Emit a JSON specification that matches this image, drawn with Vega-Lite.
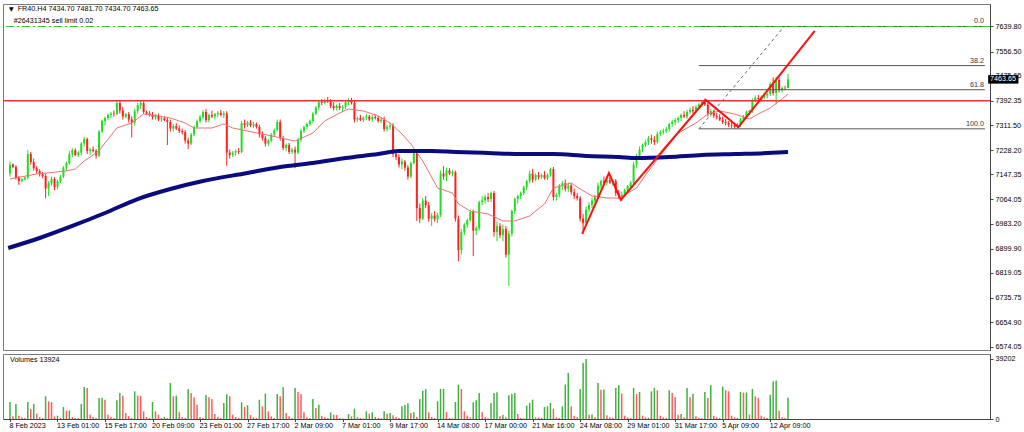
{
  "$schema": "https://vega.github.io/schema/vega-lite/v6.json",
  "background": "white",
  "padding": {"left": 2, "top": 3, "right": 0, "bottom": 0},
  "spacing": 2,
  "config": {
    "view": {"stroke": "#7a7a7a"},
    "axis": {"labelFont": "Liberation Sans", "labelFontSize": 7.2, "labelColor": "#000000", "domainColor": "#444444", "tickColor": "#444444", "tickSize": 3, "labelPadding": 2, "grid": false, "labelOverlap": false},
    "text": {"font": "Liberation Sans"}
  },
  "datasets": {
    "candles": [
      {"i":0,"o":7150,"h":7190,"l":7140,"c":7180,"v":11050,"vd":"up"},
      {"i":1,"o":7180,"h":7184,"l":7168,"c":7172,"v":1744,"vd":"down"},
      {"i":2,"o":7172,"h":7178,"l":7130,"c":7136,"v":9810,"vd":"up"},
      {"i":3,"o":7136,"h":7142,"l":7112,"c":7125,"v":2180,"vd":"down"},
      {"i":4,"o":7125,"h":7135,"l":7120,"c":7131,"v":1090,"vd":"down"},
      {"i":5,"o":7131,"h":7140,"l":7127,"c":7137,"v":654,"vd":"down"},
      {"i":6,"o":7137,"h":7228,"l":7130,"c":7215,"v":11118,"vd":"up"},
      {"i":7,"o":7215,"h":7222,"l":7180,"c":7188,"v":6540,"vd":"down"},
      {"i":8,"o":7188,"h":7200,"l":7160,"c":7168,"v":9810,"vd":"up"},
      {"i":9,"o":7168,"h":7175,"l":7150,"c":7158,"v":3488,"vd":"down"},
      {"i":10,"o":7158,"h":7165,"l":7140,"c":7148,"v":1308,"vd":"down"},
      {"i":11,"o":7148,"h":7155,"l":7135,"c":7142,"v":654,"vd":"down"},
      {"i":12,"o":7142,"h":7150,"l":7068,"c":7100,"v":14824,"vd":"up"},
      {"i":13,"o":7100,"h":7125,"l":7075,"c":7118,"v":11554,"vd":"down"},
      {"i":14,"o":7118,"h":7140,"l":7110,"c":7132,"v":11118,"vd":"down"},
      {"i":15,"o":7132,"h":7138,"l":7095,"c":7105,"v":1744,"vd":"down"},
      {"i":16,"o":7105,"h":7130,"l":7098,"c":7125,"v":2180,"vd":"up"},
      {"i":17,"o":7125,"h":7145,"l":7118,"c":7140,"v":654,"vd":"down"},
      {"i":18,"o":7140,"h":7175,"l":7135,"c":7170,"v":7848,"vd":"up"},
      {"i":19,"o":7170,"h":7190,"l":7160,"c":7185,"v":5450,"vd":"down"},
      {"i":20,"o":7185,"h":7225,"l":7180,"c":7215,"v":5600,"vd":"up"},
      {"i":21,"o":7215,"h":7235,"l":7205,"c":7228,"v":1308,"vd":"down"},
      {"i":22,"o":7228,"h":7234,"l":7208,"c":7212,"v":654,"vd":"down"},
      {"i":23,"o":7212,"h":7225,"l":7205,"c":7220,"v":600,"vd":"down"},
      {"i":24,"o":7220,"h":7255,"l":7210,"c":7250,"v":9810,"vd":"up"},
      {"i":25,"o":7250,"h":7272,"l":7240,"c":7265,"v":20928,"vd":"up"},
      {"i":26,"o":7265,"h":7270,"l":7215,"c":7225,"v":20274,"vd":"down"},
      {"i":27,"o":7225,"h":7235,"l":7212,"c":7230,"v":2834,"vd":"down"},
      {"i":28,"o":7230,"h":7240,"l":7220,"c":7225,"v":1308,"vd":"down"},
      {"i":29,"o":7225,"h":7232,"l":7200,"c":7210,"v":654,"vd":"down"},
      {"i":30,"o":7210,"h":7295,"l":7205,"c":7290,"v":13734,"vd":"up"},
      {"i":31,"o":7290,"h":7330,"l":7285,"c":7325,"v":13800,"vd":"up"},
      {"i":32,"o":7325,"h":7340,"l":7310,"c":7335,"v":12644,"vd":"down"},
      {"i":33,"o":7335,"h":7350,"l":7328,"c":7345,"v":2834,"vd":"down"},
      {"i":34,"o":7345,"h":7355,"l":7335,"c":7350,"v":1090,"vd":"down"},
      {"i":35,"o":7350,"h":7360,"l":7340,"c":7348,"v":654,"vd":"down"},
      {"i":36,"o":7348,"h":7392,"l":7345,"c":7385,"v":12208,"vd":"up"},
      {"i":37,"o":7385,"h":7395,"l":7350,"c":7360,"v":17004,"vd":"up"},
      {"i":38,"o":7360,"h":7372,"l":7330,"c":7340,"v":15260,"vd":"down"},
      {"i":39,"o":7340,"h":7352,"l":7335,"c":7348,"v":3924,"vd":"down"},
      {"i":40,"o":7348,"h":7355,"l":7320,"c":7330,"v":1744,"vd":"down"},
      {"i":41,"o":7330,"h":7340,"l":7270,"c":7320,"v":654,"vd":"down"},
      {"i":42,"o":7320,"h":7365,"l":7310,"c":7358,"v":18094,"vd":"up"},
      {"i":43,"o":7358,"h":7385,"l":7350,"c":7378,"v":15260,"vd":"down"},
      {"i":44,"o":7378,"h":7392,"l":7365,"c":7385,"v":15100,"vd":"down"},
      {"i":45,"o":7385,"h":7390,"l":7350,"c":7355,"v":5014,"vd":"down"},
      {"i":46,"o":7355,"h":7360,"l":7345,"c":7350,"v":1308,"vd":"down"},
      {"i":47,"o":7350,"h":7358,"l":7340,"c":7345,"v":654,"vd":"down"},
      {"i":48,"o":7345,"h":7355,"l":7330,"c":7338,"v":11118,"vd":"up"},
      {"i":49,"o":7338,"h":7348,"l":7330,"c":7342,"v":5014,"vd":"down"},
      {"i":50,"o":7342,"h":7350,"l":7325,"c":7330,"v":2834,"vd":"down"},
      {"i":51,"o":7330,"h":7338,"l":7322,"c":7334,"v":654,"vd":"down"},
      {"i":52,"o":7334,"h":7340,"l":7325,"c":7328,"v":1308,"vd":"up"},
      {"i":53,"o":7328,"h":7335,"l":7245,"c":7322,"v":654,"vd":"down"},
      {"i":54,"o":7322,"h":7330,"l":7290,"c":7300,"v":23544,"vd":"up"},
      {"i":55,"o":7300,"h":7315,"l":7290,"c":7308,"v":14824,"vd":"down"},
      {"i":56,"o":7308,"h":7318,"l":7295,"c":7300,"v":15260,"vd":"up"},
      {"i":57,"o":7300,"h":7310,"l":7285,"c":7292,"v":4360,"vd":"down"},
      {"i":58,"o":7292,"h":7300,"l":7280,"c":7288,"v":1090,"vd":"down"},
      {"i":59,"o":7288,"h":7295,"l":7250,"c":7260,"v":654,"vd":"down"},
      {"i":60,"o":7260,"h":7270,"l":7232,"c":7250,"v":19620,"vd":"up"},
      {"i":61,"o":7250,"h":7285,"l":7245,"c":7280,"v":17004,"vd":"down"},
      {"i":62,"o":7280,"h":7310,"l":7275,"c":7305,"v":14170,"vd":"down"},
      {"i":63,"o":7305,"h":7330,"l":7300,"c":7325,"v":9374,"vd":"down"},
      {"i":64,"o":7325,"h":7345,"l":7318,"c":7338,"v":1308,"vd":"down"},
      {"i":65,"o":7338,"h":7362,"l":7330,"c":7355,"v":654,"vd":"down"},
      {"i":66,"o":7355,"h":7365,"l":7320,"c":7328,"v":15696,"vd":"up"},
      {"i":67,"o":7328,"h":7350,"l":7320,"c":7345,"v":14170,"vd":"down"},
      {"i":68,"o":7345,"h":7360,"l":7335,"c":7340,"v":13080,"vd":"down"},
      {"i":69,"o":7340,"h":7352,"l":7330,"c":7348,"v":3270,"vd":"down"},
      {"i":70,"o":7348,"h":7358,"l":7338,"c":7352,"v":1308,"vd":"down"},
      {"i":71,"o":7352,"h":7362,"l":7340,"c":7345,"v":654,"vd":"down"},
      {"i":72,"o":7345,"h":7358,"l":7335,"c":7350,"v":10464,"vd":"up"},
      {"i":73,"o":7350,"h":7358,"l":7175,"c":7220,"v":16132,"vd":"up"},
      {"i":74,"o":7220,"h":7230,"l":7200,"c":7212,"v":14824,"vd":"down"},
      {"i":75,"o":7212,"h":7225,"l":7205,"c":7220,"v":2834,"vd":"down"},
      {"i":76,"o":7220,"h":7230,"l":7210,"c":7225,"v":1308,"vd":"down"},
      {"i":77,"o":7225,"h":7235,"l":7215,"c":7222,"v":654,"vd":"down"},
      {"i":78,"o":7222,"h":7325,"l":7218,"c":7318,"v":10900,"vd":"up"},
      {"i":79,"o":7318,"h":7330,"l":7300,"c":7312,"v":7848,"vd":"down"},
      {"i":80,"o":7312,"h":7325,"l":7305,"c":7320,"v":8938,"vd":"up"},
      {"i":81,"o":7320,"h":7328,"l":7305,"c":7310,"v":2616,"vd":"down"},
      {"i":82,"o":7310,"h":7322,"l":7302,"c":7315,"v":1090,"vd":"down"},
      {"i":83,"o":7315,"h":7320,"l":7300,"c":7305,"v":654,"vd":"down"},
      {"i":84,"o":7305,"h":7312,"l":7270,"c":7280,"v":12644,"vd":"up"},
      {"i":85,"o":7280,"h":7290,"l":7260,"c":7268,"v":8284,"vd":"down"},
      {"i":86,"o":7268,"h":7275,"l":7240,"c":7250,"v":16568,"vd":"up"},
      {"i":87,"o":7250,"h":7265,"l":7242,"c":7260,"v":5014,"vd":"down"},
      {"i":88,"o":7260,"h":7285,"l":7255,"c":7280,"v":1744,"vd":"down"},
      {"i":89,"o":7280,"h":7300,"l":7275,"c":7295,"v":654,"vd":"down"},
      {"i":90,"o":7295,"h":7330,"l":7290,"c":7322,"v":16350,"vd":"up"},
      {"i":91,"o":7322,"h":7330,"l":7260,"c":7268,"v":14824,"vd":"down"},
      {"i":92,"o":7268,"h":7275,"l":7228,"c":7235,"v":20710,"vd":"up"},
      {"i":93,"o":7235,"h":7250,"l":7225,"c":7245,"v":3924,"vd":"down"},
      {"i":94,"o":7245,"h":7252,"l":7215,"c":7222,"v":1744,"vd":"down"},
      {"i":95,"o":7222,"h":7235,"l":7215,"c":7230,"v":654,"vd":"down"},
      {"i":96,"o":7230,"h":7240,"l":7168,"c":7220,"v":20274,"vd":"up"},
      {"i":97,"o":7220,"h":7270,"l":7215,"c":7262,"v":17658,"vd":"down"},
      {"i":98,"o":7262,"h":7300,"l":7255,"c":7292,"v":16350,"vd":"down"},
      {"i":99,"o":7292,"h":7310,"l":7285,"c":7305,"v":4360,"vd":"down"},
      {"i":100,"o":7305,"h":7320,"l":7298,"c":7315,"v":1090,"vd":"down"},
      {"i":101,"o":7315,"h":7330,"l":7308,"c":7325,"v":654,"vd":"down"},
      {"i":102,"o":7325,"h":7355,"l":7318,"c":7350,"v":13080,"vd":"up"},
      {"i":103,"o":7350,"h":7375,"l":7345,"c":7370,"v":7194,"vd":"down"},
      {"i":104,"o":7370,"h":7392,"l":7362,"c":7388,"v":9374,"vd":"up"},
      {"i":105,"o":7388,"h":7398,"l":7378,"c":7385,"v":2180,"vd":"down"},
      {"i":106,"o":7385,"h":7400,"l":7380,"c":7395,"v":1090,"vd":"down"},
      {"i":107,"o":7395,"h":7405,"l":7385,"c":7390,"v":654,"vd":"down"},
      {"i":108,"o":7390,"h":7398,"l":7368,"c":7375,"v":4360,"vd":"up"},
      {"i":109,"o":7375,"h":7388,"l":7360,"c":7368,"v":2834,"vd":"down"},
      {"i":110,"o":7368,"h":7380,"l":7360,"c":7375,"v":2616,"vd":"down"},
      {"i":111,"o":7375,"h":7385,"l":7362,"c":7368,"v":654,"vd":"down"},
      {"i":112,"o":7368,"h":7378,"l":7355,"c":7372,"v":436,"vd":"down"},
      {"i":113,"o":7372,"h":7392,"l":7365,"c":7388,"v":218,"vd":"down"},
      {"i":114,"o":7388,"h":7400,"l":7378,"c":7395,"v":3270,"vd":"up"},
      {"i":115,"o":7395,"h":7402,"l":7380,"c":7385,"v":1744,"vd":"down"},
      {"i":116,"o":7385,"h":7392,"l":7320,"c":7330,"v":6758,"vd":"up"},
      {"i":117,"o":7330,"h":7340,"l":7322,"c":7335,"v":1308,"vd":"down"},
      {"i":118,"o":7335,"h":7345,"l":7325,"c":7328,"v":654,"vd":"down"},
      {"i":119,"o":7328,"h":7340,"l":7322,"c":7336,"v":436,"vd":"down"},
      {"i":120,"o":7336,"h":7348,"l":7328,"c":7340,"v":5014,"vd":"up"},
      {"i":121,"o":7340,"h":7345,"l":7325,"c":7330,"v":3488,"vd":"down"},
      {"i":122,"o":7330,"h":7345,"l":7322,"c":7338,"v":4360,"vd":"up"},
      {"i":123,"o":7338,"h":7348,"l":7330,"c":7335,"v":1308,"vd":"down"},
      {"i":124,"o":7335,"h":7342,"l":7320,"c":7325,"v":654,"vd":"down"},
      {"i":125,"o":7325,"h":7338,"l":7318,"c":7330,"v":436,"vd":"down"},
      {"i":126,"o":7330,"h":7340,"l":7290,"c":7298,"v":5014,"vd":"up"},
      {"i":127,"o":7298,"h":7312,"l":7290,"c":7305,"v":3488,"vd":"down"},
      {"i":128,"o":7305,"h":7320,"l":7295,"c":7310,"v":3924,"vd":"up"},
      {"i":129,"o":7310,"h":7318,"l":7205,"c":7215,"v":2398,"vd":"down"},
      {"i":130,"o":7215,"h":7230,"l":7195,"c":7205,"v":1308,"vd":"down"},
      {"i":131,"o":7205,"h":7215,"l":7170,"c":7180,"v":654,"vd":"down"},
      {"i":132,"o":7180,"h":7200,"l":7165,"c":7190,"v":8284,"vd":"up"},
      {"i":133,"o":7190,"h":7195,"l":7160,"c":7170,"v":9156,"vd":"up"},
      {"i":134,"o":7170,"h":7178,"l":7130,"c":7140,"v":10246,"vd":"up"},
      {"i":135,"o":7140,"h":7190,"l":7135,"c":7185,"v":3924,"vd":"down"},
      {"i":136,"o":7185,"h":7232,"l":7180,"c":7225,"v":4360,"vd":"up"},
      {"i":137,"o":7225,"h":7232,"l":6992,"c":7035,"v":1308,"vd":"down"},
      {"i":138,"o":7035,"h":7050,"l":6985,"c":7000,"v":13080,"vd":"up"},
      {"i":139,"o":7000,"h":7068,"l":6995,"c":7060,"v":18530,"vd":"up"},
      {"i":140,"o":7060,"h":7075,"l":7035,"c":7045,"v":19620,"vd":"up"},
      {"i":141,"o":7045,"h":7055,"l":6990,"c":7000,"v":4360,"vd":"down"},
      {"i":142,"o":7000,"h":7018,"l":6975,"c":7010,"v":1308,"vd":"down"},
      {"i":143,"o":7010,"h":7025,"l":6990,"c":6998,"v":654,"vd":"down"},
      {"i":144,"o":6998,"h":7020,"l":6985,"c":7012,"v":11554,"vd":"up"},
      {"i":145,"o":7012,"h":7160,"l":7005,"c":7150,"v":19620,"vd":"up"},
      {"i":146,"o":7150,"h":7175,"l":7130,"c":7140,"v":19700,"vd":"up"},
      {"i":147,"o":7140,"h":7170,"l":7125,"c":7160,"v":4578,"vd":"down"},
      {"i":148,"o":7160,"h":7168,"l":7145,"c":7150,"v":654,"vd":"down"},
      {"i":149,"o":7150,"h":7162,"l":7140,"c":7155,"v":436,"vd":"down"},
      {"i":150,"o":7155,"h":7160,"l":6990,"c":7000,"v":11118,"vd":"up"},
      {"i":151,"o":7000,"h":7010,"l":6858,"c":6895,"v":22454,"vd":"up"},
      {"i":152,"o":6895,"h":6965,"l":6880,"c":6955,"v":19620,"vd":"down"},
      {"i":153,"o":6955,"h":6985,"l":6945,"c":6980,"v":5014,"vd":"down"},
      {"i":154,"o":6980,"h":7000,"l":6970,"c":6995,"v":2180,"vd":"down"},
      {"i":155,"o":6995,"h":7030,"l":6990,"c":7022,"v":1090,"vd":"down"},
      {"i":156,"o":7022,"h":7030,"l":6875,"c":6960,"v":10900,"vd":"up"},
      {"i":157,"o":6960,"h":6975,"l":6945,"c":6968,"v":12208,"vd":"up"},
      {"i":158,"o":6968,"h":7060,"l":6960,"c":7055,"v":17004,"vd":"up"},
      {"i":159,"o":7055,"h":7075,"l":7045,"c":7060,"v":4360,"vd":"down"},
      {"i":160,"o":7060,"h":7080,"l":7050,"c":7072,"v":1090,"vd":"down"},
      {"i":161,"o":7072,"h":7085,"l":7055,"c":7065,"v":436,"vd":"down"},
      {"i":162,"o":7065,"h":7090,"l":7055,"c":7085,"v":10464,"vd":"up"},
      {"i":163,"o":7085,"h":7092,"l":6940,"c":6955,"v":17004,"vd":"up"},
      {"i":164,"o":6955,"h":6990,"l":6925,"c":6975,"v":17440,"vd":"up"},
      {"i":165,"o":6975,"h":6985,"l":6935,"c":6945,"v":1744,"vd":"down"},
      {"i":166,"o":6945,"h":6980,"l":6925,"c":6965,"v":2616,"vd":"up"},
      {"i":167,"o":6965,"h":6975,"l":6870,"c":6880,"v":1090,"vd":"down"},
      {"i":168,"o":6880,"h":6960,"l":6776,"c":6950,"v":15478,"vd":"up"},
      {"i":169,"o":6950,"h":7030,"l":6940,"c":7025,"v":16568,"vd":"up"},
      {"i":170,"o":7025,"h":7070,"l":7015,"c":7065,"v":17004,"vd":"up"},
      {"i":171,"o":7065,"h":7080,"l":7050,"c":7075,"v":3270,"vd":"down"},
      {"i":172,"o":7075,"h":7090,"l":7065,"c":7085,"v":654,"vd":"down"},
      {"i":173,"o":7085,"h":7110,"l":7078,"c":7105,"v":436,"vd":"down"},
      {"i":174,"o":7105,"h":7130,"l":7095,"c":7125,"v":8720,"vd":"up"},
      {"i":175,"o":7125,"h":7160,"l":7118,"c":7150,"v":10464,"vd":"up"},
      {"i":176,"o":7150,"h":7165,"l":7120,"c":7130,"v":12644,"vd":"up"},
      {"i":177,"o":7130,"h":7150,"l":7125,"c":7145,"v":1090,"vd":"down"},
      {"i":178,"o":7145,"h":7155,"l":7130,"c":7138,"v":872,"vd":"down"},
      {"i":179,"o":7138,"h":7150,"l":7132,"c":7145,"v":654,"vd":"down"},
      {"i":180,"o":7145,"h":7158,"l":7130,"c":7135,"v":7848,"vd":"up"},
      {"i":181,"o":7135,"h":7150,"l":7128,"c":7145,"v":8284,"vd":"up"},
      {"i":182,"o":7145,"h":7170,"l":7140,"c":7165,"v":10464,"vd":"up"},
      {"i":183,"o":7165,"h":7172,"l":7060,"c":7072,"v":6758,"vd":"down"},
      {"i":184,"o":7072,"h":7085,"l":7060,"c":7080,"v":1090,"vd":"down"},
      {"i":185,"o":7080,"h":7115,"l":7070,"c":7110,"v":654,"vd":"down"},
      {"i":186,"o":7110,"h":7125,"l":7095,"c":7118,"v":8284,"vd":"up"},
      {"i":187,"o":7118,"h":7130,"l":7090,"c":7100,"v":22454,"vd":"up"},
      {"i":188,"o":7100,"h":7120,"l":7088,"c":7110,"v":30084,"vd":"up"},
      {"i":189,"o":7110,"h":7118,"l":7080,"c":7088,"v":8284,"vd":"down"},
      {"i":190,"o":7088,"h":7100,"l":7065,"c":7075,"v":2180,"vd":"down"},
      {"i":191,"o":7075,"h":7085,"l":7060,"c":7068,"v":1090,"vd":"down"},
      {"i":192,"o":7068,"h":7075,"l":6990,"c":7000,"v":19620,"vd":"up"},
      {"i":193,"o":7000,"h":7015,"l":6950,"c":6985,"v":36624,"vd":"up"},
      {"i":194,"o":6985,"h":7040,"l":6975,"c":7030,"v":39202,"vd":"up"},
      {"i":195,"o":7030,"h":7055,"l":7020,"c":7045,"v":2834,"vd":"down"},
      {"i":196,"o":7045,"h":7070,"l":7035,"c":7060,"v":2900,"vd":"up"},
      {"i":197,"o":7060,"h":7080,"l":7050,"c":7072,"v":1090,"vd":"down"},
      {"i":198,"o":7072,"h":7120,"l":7065,"c":7110,"v":23544,"vd":"up"},
      {"i":199,"o":7110,"h":7130,"l":7100,"c":7125,"v":19184,"vd":"down"},
      {"i":200,"o":7125,"h":7140,"l":7110,"c":7120,"v":19300,"vd":"up"},
      {"i":201,"o":7120,"h":7135,"l":7110,"c":7128,"v":2398,"vd":"down"},
      {"i":202,"o":7128,"h":7138,"l":7115,"c":7120,"v":1090,"vd":"down"},
      {"i":203,"o":7120,"h":7130,"l":7110,"c":7125,"v":872,"vd":"down"},
      {"i":204,"o":7125,"h":7132,"l":7075,"c":7085,"v":20274,"vd":"up"},
      {"i":205,"o":7085,"h":7095,"l":7065,"c":7075,"v":22018,"vd":"up"},
      {"i":206,"o":7075,"h":7090,"l":7058,"c":7080,"v":16568,"vd":"down"},
      {"i":207,"o":7080,"h":7100,"l":7072,"c":7095,"v":2180,"vd":"down"},
      {"i":208,"o":7095,"h":7112,"l":7088,"c":7108,"v":1090,"vd":"down"},
      {"i":209,"o":7108,"h":7125,"l":7100,"c":7120,"v":654,"vd":"down"},
      {"i":210,"o":7120,"h":7190,"l":7115,"c":7180,"v":20274,"vd":"up"},
      {"i":211,"o":7180,"h":7215,"l":7170,"c":7205,"v":16350,"vd":"down"},
      {"i":212,"o":7205,"h":7240,"l":7195,"c":7230,"v":17658,"vd":"up"},
      {"i":213,"o":7230,"h":7250,"l":7222,"c":7245,"v":2180,"vd":"down"},
      {"i":214,"o":7245,"h":7262,"l":7238,"c":7255,"v":1090,"vd":"down"},
      {"i":215,"o":7255,"h":7275,"l":7245,"c":7268,"v":872,"vd":"down"},
      {"i":216,"o":7268,"h":7280,"l":7250,"c":7262,"v":18094,"vd":"up"},
      {"i":217,"o":7262,"h":7275,"l":7245,"c":7255,"v":20274,"vd":"up"},
      {"i":218,"o":7255,"h":7290,"l":7250,"c":7282,"v":18748,"vd":"down"},
      {"i":219,"o":7282,"h":7295,"l":7275,"c":7288,"v":2180,"vd":"down"},
      {"i":220,"o":7288,"h":7300,"l":7280,"c":7292,"v":1090,"vd":"down"},
      {"i":221,"o":7292,"h":7305,"l":7285,"c":7298,"v":654,"vd":"down"},
      {"i":222,"o":7298,"h":7320,"l":7290,"c":7315,"v":18748,"vd":"up"},
      {"i":223,"o":7315,"h":7330,"l":7305,"c":7322,"v":17004,"vd":"down"},
      {"i":224,"o":7322,"h":7335,"l":7312,"c":7328,"v":14388,"vd":"down"},
      {"i":225,"o":7328,"h":7340,"l":7318,"c":7335,"v":2834,"vd":"down"},
      {"i":226,"o":7335,"h":7350,"l":7325,"c":7345,"v":3270,"vd":"up"},
      {"i":227,"o":7345,"h":7358,"l":7335,"c":7340,"v":1090,"vd":"down"},
      {"i":228,"o":7340,"h":7362,"l":7332,"c":7355,"v":20274,"vd":"up"},
      {"i":229,"o":7355,"h":7370,"l":7348,"c":7362,"v":14388,"vd":"down"},
      {"i":230,"o":7362,"h":7375,"l":7350,"c":7358,"v":16568,"vd":"up"},
      {"i":231,"o":7358,"h":7378,"l":7352,"c":7372,"v":1744,"vd":"down"},
      {"i":232,"o":7372,"h":7385,"l":7365,"c":7380,"v":872,"vd":"down"},
      {"i":233,"o":7380,"h":7392,"l":7372,"c":7388,"v":654,"vd":"down"},
      {"i":234,"o":7388,"h":7400,"l":7375,"c":7380,"v":17658,"vd":"up"},
      {"i":235,"o":7380,"h":7395,"l":7340,"c":7350,"v":13734,"vd":"down"},
      {"i":236,"o":7350,"h":7365,"l":7340,"c":7358,"v":22018,"vd":"up"},
      {"i":237,"o":7358,"h":7362,"l":7335,"c":7342,"v":2180,"vd":"down"},
      {"i":238,"o":7342,"h":7352,"l":7330,"c":7338,"v":1090,"vd":"down"},
      {"i":239,"o":7338,"h":7348,"l":7325,"c":7330,"v":654,"vd":"down"},
      {"i":240,"o":7330,"h":7340,"l":7315,"c":7322,"v":21146,"vd":"up"},
      {"i":241,"o":7322,"h":7332,"l":7310,"c":7318,"v":18748,"vd":"down"},
      {"i":242,"o":7318,"h":7325,"l":7305,"c":7312,"v":18094,"vd":"down"},
      {"i":243,"o":7312,"h":7320,"l":7302,"c":7310,"v":2180,"vd":"down"},
      {"i":244,"o":7310,"h":7318,"l":7299,"c":7305,"v":1090,"vd":"down"},
      {"i":245,"o":7305,"h":7318,"l":7300,"c":7312,"v":654,"vd":"down"},
      {"i":246,"o":7312,"h":7335,"l":7305,"c":7330,"v":17658,"vd":"up"},
      {"i":247,"o":7330,"h":7345,"l":7322,"c":7340,"v":17222,"vd":"down"},
      {"i":248,"o":7340,"h":7360,"l":7332,"c":7355,"v":17300,"vd":"up"},
      {"i":249,"o":7355,"h":7362,"l":7345,"c":7358,"v":2834,"vd":"down"},
      {"i":250,"o":7358,"h":7400,"l":7352,"c":7395,"v":19620,"vd":"up"},
      {"i":251,"o":7395,"h":7410,"l":7388,"c":7402,"v":14824,"vd":"down"},
      {"i":252,"o":7402,"h":7412,"l":7392,"c":7398,"v":13734,"vd":"down"},
      {"i":253,"o":7398,"h":7410,"l":7390,"c":7405,"v":2180,"vd":"down"},
      {"i":254,"o":7405,"h":7418,"l":7398,"c":7410,"v":1090,"vd":"down"},
      {"i":255,"o":7410,"h":7420,"l":7400,"c":7415,"v":654,"vd":"down"},
      {"i":256,"o":7415,"h":7455,"l":7408,"c":7448,"v":15914,"vd":"up"},
      {"i":257,"o":7448,"h":7470,"l":7410,"c":7418,"v":24634,"vd":"up"},
      {"i":258,"o":7418,"h":7472,"l":7380,"c":7462,"v":25070,"vd":"up"},
      {"i":259,"o":7462,"h":7470,"l":7420,"c":7428,"v":5450,"vd":"down"},
      {"i":260,"o":7428,"h":7440,"l":7420,"c":7435,"v":1090,"vd":"down"},
      {"i":261,"o":7435,"h":7442,"l":7428,"c":7434.7,"v":654,"vd":"down"},
      {"i":262,"o":7434.7,"h":7481.7,"l":7434.7,"c":7463.65,"v":13924,"vd":"up"}
    ],
    "ma_fast": [
      {"i":0,"p":7132},{"i":9,"p":7148.6},{"i":19,"p":7158.6},{"i":22,"p":7165.3},{"i":25,"p":7191.9},
      {"i":30,"p":7225.2},{"i":32,"p":7251.8},{"i":36,"p":7301.8},{"i":41,"p":7318.5},{"i":45,"p":7348.4},
      {"i":50,"p":7341.8},{"i":54,"p":7335.1},{"i":59,"p":7318.5},{"i":62,"p":7301.8},{"i":68,"p":7301.8},
      {"i":72,"p":7315.1},{"i":75,"p":7301.8},{"i":80,"p":7291.8},{"i":85,"p":7281.8},{"i":96,"p":7258.5},
      {"i":102,"p":7285.1},{"i":106,"p":7325.1},{"i":111,"p":7351.7},{"i":114,"p":7365.1},{"i":119,"p":7358.4},
      {"i":124,"p":7341.8},{"i":128,"p":7318.5},{"i":132,"p":7281.8},{"i":135,"p":7248.5},{"i":139,"p":7191.9},
      {"i":144,"p":7102},{"i":149,"p":7085.3},{"i":151,"p":7048.7},{"i":155,"p":7025.4},{"i":161,"p":7015.4},
      {"i":166,"p":6992.1},{"i":170,"p":6992.1},{"i":175,"p":7008.8},{"i":180,"p":7048.7},{"i":183,"p":7102},
      {"i":189,"p":7118.6},{"i":192,"p":7098.7},{"i":196,"p":7075.4},{"i":201,"p":7068.7},{"i":205,"p":7068.7},
      {"i":211,"p":7102},{"i":215,"p":7158.6},{"i":221,"p":7235.2},{"i":225,"p":7285.1},{"i":231,"p":7318.5},
      {"i":235,"p":7348.4},{"i":239,"p":7358.4},{"i":244,"p":7348.4},{"i":249,"p":7331.8},{"i":252,"p":7348.4},
      {"i":256,"p":7368.4},{"i":260,"p":7398.4},{"i":262,"p":7415}
    ],
    "ma_slow": [
      {"i":-0.6,"p":6902.2},{"i":10,"p":6935.5},{"i":21,"p":6975.5},{"i":32,"p":7018.7},{"i":43,"p":7065.3},
      {"i":54,"p":7098.7},{"i":65,"p":7125.3},{"i":80,"p":7152},{"i":91,"p":7171.9},{"i":102,"p":7185.2},
      {"i":113,"p":7201.9},{"i":124,"p":7215.2},{"i":131,"p":7225.2},{"i":142,"p":7225.2},{"i":150,"p":7221.9},
      {"i":161,"p":7218.5},{"i":172,"p":7215.2},{"i":183,"p":7215.2},{"i":194,"p":7208.5},{"i":205,"p":7205.2},
      {"i":211,"p":7201.9},{"i":222,"p":7205.2},{"i":233,"p":7211.9},{"i":244,"p":7215.2},{"i":255,"p":7218.5},
      {"i":262,"p":7221.9}
    ],
    "zigzag": [
      {"i":192.7,"p":6949},{"i":201.7,"p":7152},{"i":205.7,"p":7062},{"i":234.3,"p":7395},{"i":245.3,"p":7305},{"i":271,"p":7625}
    ],
    "fib": [
      {"lvl":"0.0","p":7639.8},{"lvl":"38.2","p":7509.6},{"lvl":"61.8","p":7429.2},{"lvl":"100.0","p":7299}
    ],
    "fibtrend": [
      {"i":232,"p":7299},{"i":260.7,"p":7640}
    ]
  },
  "vconcat": [
    {
      "width": 987,
      "height": 346,
      "layer": [
        {
          "data": {"name": "candles"},
          "mark": {"type": "rule", "strokeWidth": 1, "clip": true},
          "encoding": {
            "x": {"field": "i", "type": "quantitative", "title": null, "scale": {"domain": [-0.667, 328.333], "nice": false, "zero": false}, "axis": null},
            "y": {"field": "l", "type": "quantitative", "title": null, "scale": {"domain": [6562.5, 7714.7], "nice": false, "zero": false},
              "axis": {"orient": "right", "format": ".2f", "labelOverlap": false, "labelBound": false, "tickCount": 14,
                "values": [6574.05, 6654.9, 6735.75, 6819.05, 6899.9, 6983.2, 7064.05, 7147.35, 7228.2, 7311.5, 7392.35, 7475.65, 7556.5, 7639.8]}},
            "y2": {"field": "h"},
            "color": {"condition": {"test": "datum.c >= datum.o", "value": "#22dd22"}, "value": "#ff2020"}
          }
        },
        {
          "data": {"name": "candles"},
          "mark": {"type": "bar", "size": 2, "clip": true},
          "encoding": {
            "x": {"field": "i", "type": "quantitative", "title": null},
            "y": {"field": "o", "type": "quantitative", "title": null},
            "y2": {"field": "c"},
            "color": {"condition": {"test": "datum.c >= datum.o", "value": "#22dd22"}, "value": "#ff2020"}
          }
        },
        {
          "data": {"name": "ma_fast"},
          "mark": {"type": "line", "color": "#f07070", "strokeWidth": 1, "clip": true},
          "encoding": {
            "x": {"field": "i", "type": "quantitative", "title": null},
            "y": {"field": "p", "type": "quantitative", "title": null}
          }
        },
        {
          "data": {"name": "ma_slow"},
          "mark": {"type": "line", "color": "#0b0b80", "strokeWidth": 4, "interpolate": "monotone", "clip": true},
          "encoding": {
            "x": {"field": "i", "type": "quantitative", "title": null},
            "y": {"field": "p", "type": "quantitative", "title": null}
          }
        },
        {
          "data": {"values": [{"level": 7392.35}]},
          "mark": {"type": "rule", "color": "#f03030", "strokeWidth": 1.6, "clip": true},
          "encoding": {"y": {"field": "level", "type": "quantitative", "title": null}}
        },
        {
          "data": {"name": "fib"},
          "mark": {"type": "rule", "color": "#555555", "strokeWidth": 1, "clip": true},
          "encoding": {
            "x": {"datum": 232, "type": "quantitative", "title": null},
            "x2": {"datum": 328.3},
            "y": {"field": "p", "type": "quantitative", "title": null}
          }
        },
        {
          "data": {"name": "fib"},
          "mark": {"type": "text", "align": "right", "baseline": "bottom", "dy": -1, "fontSize": 7.2, "color": "#333333"},
          "encoding": {
            "x": {"datum": 328, "type": "quantitative", "title": null},
            "y": {"field": "p", "type": "quantitative", "title": null},
            "text": {"field": "lvl"}
          }
        },
        {
          "data": {"name": "fibtrend"},
          "mark": {"type": "line", "color": "#666666", "strokeWidth": 1, "strokeDash": [3, 3], "clip": true},
          "encoding": {
            "x": {"field": "i", "type": "quantitative", "title": null},
            "y": {"field": "p", "type": "quantitative", "title": null}
          }
        },
        {
          "data": {"name": "zigzag"},
          "mark": {"type": "line", "color": "#ff1010", "strokeWidth": 2, "clip": true},
          "encoding": {
            "x": {"field": "i", "type": "quantitative", "title": null},
            "y": {"field": "p", "type": "quantitative", "title": null}
          }
        },
        {
          "data": {"values": [{"level": 7639.8}]},
          "mark": {"type": "rule", "color": "#33cc33", "strokeWidth": 1, "strokeDash": [8, 3, 2, 3], "clip": true},
          "encoding": {"y": {"field": "level", "type": "quantitative", "title": null}}
        },
        {
          "data": {"values": [{"t": "▼"}]},
          "mark": {"type": "text", "align": "left", "baseline": "middle", "fontSize": 6, "font": "DejaVu Sans", "color": "#000000"},
          "encoding": {
            "x": {"datum": -0.3, "type": "quantitative", "title": null},
            "y": {"datum": 7698, "type": "quantitative", "title": null},
            "text": {"field": "t"}
          }
        },
        {
          "data": {"values": [{"t": "FR40.H4  7434.70 7481.70 7434.70 7463.65"}]},
          "mark": {"type": "text", "align": "left", "baseline": "middle", "fontSize": 7.2, "color": "#000000"},
          "encoding": {
            "x": {"datum": 2.6, "type": "quantitative", "title": null},
            "y": {"datum": 7698, "type": "quantitative", "title": null},
            "text": {"field": "t"}
          }
        },
        {
          "data": {"values": [{"t": "#26431345 sell limit 0.02"}]},
          "mark": {"type": "text", "align": "left", "baseline": "middle", "fontSize": 7.2, "color": "#000000"},
          "encoding": {
            "x": {"datum": 1.3, "type": "quantitative", "title": null},
            "y": {"datum": 7658, "type": "quantitative", "title": null},
            "text": {"field": "t"}
          }
        },
        {
          "data": {"values": [{"last": 7463.65}]},
          "mark": {"type": "rect", "color": "#000000"},
          "encoding": {
            "x": {"datum": 329.4, "type": "quantitative", "title": null},
            "x2": {"datum": 339.6},
            "y": {"datum": 7449.5, "type": "quantitative", "title": null},
            "y2": {"datum": 7478}
          }
        },
        {
          "data": {"values": [{"last": 7463.65}]},
          "mark": {"type": "text", "align": "left", "baseline": "middle", "fontSize": 7.2, "color": "#ffffff"},
          "encoding": {
            "x": {"datum": 330, "type": "quantitative", "title": null},
            "y": {"field": "last", "type": "quantitative", "title": null},
            "text": {"field": "last", "type": "quantitative", "format": ".2f"}
          }
        }
      ]
    },
    {
      "width": 987,
      "height": 65,
      "layer": [
        {
          "data": {"name": "candles"},
          "mark": {"type": "bar", "size": 1.5, "clip": true},
          "encoding": {
            "x": {"field": "i", "type": "quantitative", "title": null, "scale": {"domain": [-0.667, 328.333], "nice": false, "zero": false},
              "axis": {"orient": "bottom", "values": [0, 16, 32, 48, 64, 80, 96, 112, 128, 144, 160, 176, 192, 208, 224, 240, 256], "labelAlign": "left", "labelOffset": -1, "labelFlush": false, "labelOverlap": false, "tickSize": 2.5, "labelPadding": 0,
                "labelExpr": "['8 Feb 2023','13 Feb 01:00','15 Feb 17:00','20 Feb 09:00','23 Feb 01:00','27 Feb 17:00','2 Mar 09:00','7 Mar 01:00','9 Mar 17:00','14 Mar 08:00','17 Mar 00:00','21 Mar 16:00','24 Mar 08:00','29 Mar 01:00','31 Mar 17:00','5 Apr 09:00','12 Apr 09:00'][round(datum.value / 16)]"}},
            "y": {"field": "v", "type": "quantitative", "title": null, "scale": {"domain": [0, 42450], "nice": false},
              "axis": {"orient": "right", "values": [0, 39202], "format": "d", "labelOverlap": false}},
            "color": {"field": "vd", "type": "nominal", "scale": {"domain": ["up", "down"], "range": ["#3fb23f", "#ff5c5c"]}, "legend": null}
          }
        },
        {
          "data": {"values": [{"t": "Volumes 13924"}]},
          "mark": {"type": "text", "align": "left", "baseline": "middle", "fontSize": 7.2, "color": "#000000"},
          "encoding": {
            "x": {"datum": 0, "type": "quantitative", "title": null},
            "y": {"datum": 38500, "type": "quantitative", "title": null},
            "text": {"field": "t"}
          }
        }
      ]
    }
  ]
}
